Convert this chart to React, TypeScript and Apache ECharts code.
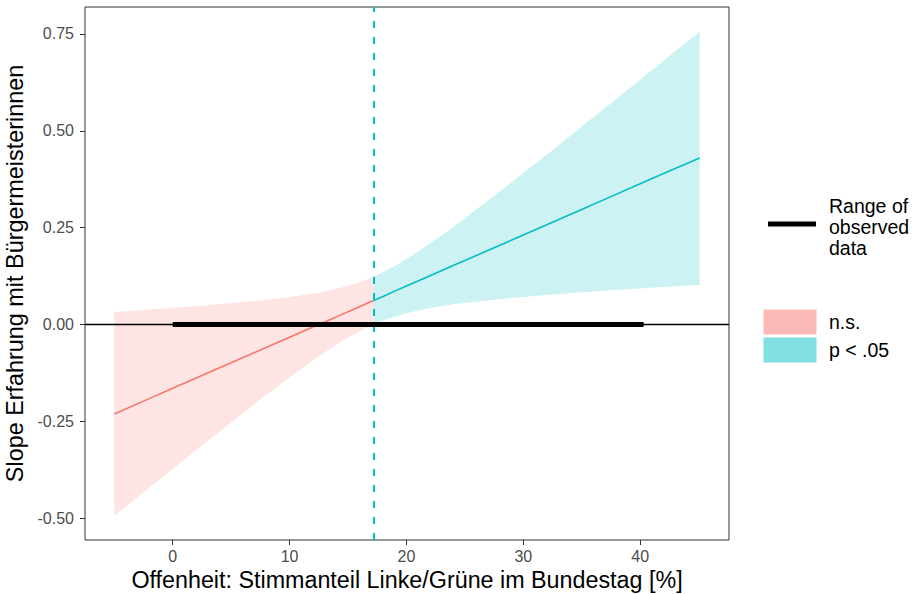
import React, { useEffect, useRef } from "react";
import * as echarts from "echarts";

// Johnson–Neyman plot data
const nsX = [-5, -2.5, 0, 2.5, 5, 7.5, 10, 11.5, 12.5, 13.5, 14.5, 15.5, 16.5, 17.2];
const nsFit = [-0.231, -0.198, -0.165, -0.132, -0.099, -0.066, -0.033, -0.013, 0.0, 0.013, 0.026, 0.039, 0.053, 0.062];
const nsLower = [-0.494, -0.433, -0.373, -0.312, -0.253, -0.194, -0.137, -0.104, -0.082, -0.062, -0.043, -0.026, -0.01, 0.0];
const nsUpper = [0.032, 0.037, 0.043, 0.048, 0.055, 0.062, 0.071, 0.077, 0.082, 0.088, 0.096, 0.104, 0.115, 0.124];

const sigX = [17.2, 18, 19, 20, 21, 22.5, 24, 25, 27.5, 30, 32.5, 35, 37.5, 40, 42.5, 45.1];
const sigFit = [0.062, 0.072, 0.086, 0.099, 0.112, 0.132, 0.152, 0.165, 0.198, 0.231, 0.264, 0.297, 0.33, 0.363, 0.396, 0.43];
const sigLower = [0.0, 0.01, 0.02, 0.029, 0.036, 0.045, 0.052, 0.056, 0.064, 0.071, 0.077, 0.083, 0.088, 0.093, 0.098, 0.102];
const sigUpper = [0.124, 0.135, 0.151, 0.169, 0.188, 0.219, 0.251, 0.274, 0.332, 0.391, 0.45, 0.511, 0.571, 0.632, 0.693, 0.756];

const observedRange = [0, 40.3];
const jnPoint = 17.2;

const xTicks = [0, 10, 20, 30, 40];
const yTicks = [-0.5, -0.25, 0, 0.25, 0.5, 0.75];

const xTitle = "Offenheit: Stimmanteil Linke/Grüne im Bundestag [%]";
const yTitle = "Slope Erfahrung mit Bürgermeisterinnen";
const legendRangeLines = ["Range of", "observed", "data"];
const legendNs = "n.s.";
const legendSig = "p < .05";

const RED = "#F8766D";
const CYAN = "#00BFC4";
const FONT = "'Liberation Sans', Arial, Helvetica, sans-serif";

function bandSeries(xs: number[], lo: number[], hi: number[], fill: string) {
  return {
    type: "custom",
    data: xs.map((x, i) => [x, lo[i], hi[i]]),
    encode: { x: 0, y: [1, 2] },
    silent: true,
    z: 1,
    renderItem: (params: any, api: any) => {
      if (params.dataIndex !== 0) return null;
      const pts: number[][] = [];
      for (let i = 0; i < xs.length; i++) pts.push(api.coord([xs[i], lo[i]]));
      for (let i = xs.length - 1; i >= 0; i--) pts.push(api.coord([xs[i], hi[i]]));
      return { type: "polygon", shape: { points: pts, smooth: 0 }, style: { fill, stroke: "none" } };
    },
  };
}

export default function App() {
  const ref = useRef<HTMLDivElement>(null);
  useEffect(() => {
    if (!ref.current) return;
    const chart = echarts.init(ref.current, undefined, { renderer: "svg" });
    const option: any = {
      animation: false,
      backgroundColor: "#ffffff",
      textStyle: { fontFamily: FONT },
      grid: {
        left: 85,
        right: 188,
        top: 7,
        bottom: 54,
        show: true,
        borderColor: "#333333",
        borderWidth: 1,
        backgroundColor: "transparent",
        containLabel: false,
        outerBoundsMode: "none",
      },
      xAxis: {
        type: "value",
        min: -7.505,
        max: 47.605,
        name: xTitle,
        nameLocation: "middle",
        nameGap: 27,
        nameTextStyle: { fontSize: 23.3, color: "#000000", fontFamily: FONT, verticalAlign: "top" },
        axisLine: { show: false, onZero: false },
        splitLine: { show: false },
        axisTick: {
          show: true,
          length: 5,
          inside: false,
          lineStyle: { color: "#333333", width: 1 },
          customValues: xTicks,
        },
        axisLabel: {
          show: true,
          fontSize: 16,
          color: "#4D4D4D",
          fontFamily: FONT,
          margin: 8,
          customValues: xTicks,
          formatter: (v: number) => String(v),
        },
      },
      yAxis: {
        type: "value",
        min: -0.5566,
        max: 0.8196,
        name: yTitle,
        nameLocation: "middle",
        nameRotate: 90,
        nameGap: 55,
        nameTextStyle: { fontSize: 23.4, color: "#000000", fontFamily: FONT },
        axisLine: { show: false, onZero: false },
        splitLine: { show: false },
        axisTick: {
          show: true,
          length: 5,
          inside: false,
          lineStyle: { color: "#333333", width: 1 },
          customValues: yTicks,
        },
        axisLabel: {
          show: true,
          fontSize: 16,
          color: "#4D4D4D",
          fontFamily: FONT,
          margin: 11,
          customValues: yTicks,
          formatter: (v: number) => v.toFixed(2),
        },
      },
      series: [
        bandSeries(nsX, nsLower, nsUpper, "rgba(248,118,109,0.2)"),
        bandSeries(sigX, sigLower, sigUpper, "rgba(0,191,196,0.2)"),
        {
          type: "line",
          data: nsX.map((x, i) => [x, nsFit[i]]),
          showSymbol: false,
          symbol: "none",
          lineStyle: { color: RED, width: 1.6 },
          z: 3,
          silent: true,
        },
        {
          type: "line",
          data: sigX.map((x, i) => [x, sigFit[i]]),
          showSymbol: false,
          symbol: "none",
          lineStyle: { color: CYAN, width: 1.6 },
          z: 3,
          silent: true,
        },
        {
          type: "line",
          data: observedRange.map((x) => [x, 0]),
          showSymbol: false,
          symbol: "none",
          lineStyle: { color: "#000000", width: 5, cap: "butt" },
          z: 5,
          silent: true,
          markLine: {
            silent: true,
            symbol: ["none", "none"],
            label: { show: false },
            animation: false,
            z: 4,
            data: [
              { yAxis: 0, lineStyle: { color: "#000000", width: 1.3, type: "solid" } },
              { xAxis: jnPoint, lineStyle: { color: CYAN, width: 2, type: [7, 9] } },
            ],
          },
        },
      ],
      graphic: [
        {
          type: "line",
          shape: { x1: 768, y1: 224, x2: 816, y2: 224 },
          style: { stroke: "#000000", lineWidth: 5 },
        },
        ...legendRangeLines.map((t, i) => ({
          type: "text",
          x: 829,
          y: 206 + i * 21,
          style: {
            text: t,
            fontSize: 19.5,
            fontFamily: FONT,
            fill: "#000000",
            verticalAlign: "middle",
            align: "left",
          },
        })),
        {
          type: "rect",
          shape: { x: 763, y: 309, width: 54, height: 26 },
          style: { fill: "#FBBAB5", stroke: "#ffffff", lineWidth: 1 },
        },
        {
          type: "rect",
          shape: { x: 763, y: 337, width: 54, height: 26 },
          style: { fill: "#80DFE1", stroke: "#ffffff", lineWidth: 1 },
        },
        {
          type: "text",
          x: 829,
          y: 322,
          style: { text: legendNs, fontSize: 19.5, fontFamily: FONT, fill: "#000000", verticalAlign: "middle" },
        },
        {
          type: "text",
          x: 829,
          y: 350,
          style: { text: legendSig, fontSize: 19.5, fontFamily: FONT, fill: "#000000", verticalAlign: "middle" },
        },
      ],
    };
    chart.setOption(option);
    return () => chart.dispose();
  }, []);
  return (
    <div
      ref={ref}
      style={{ position: "fixed", left: 0, top: 0, width: 917, height: 594, background: "#fff" }}
    />
  );
}
